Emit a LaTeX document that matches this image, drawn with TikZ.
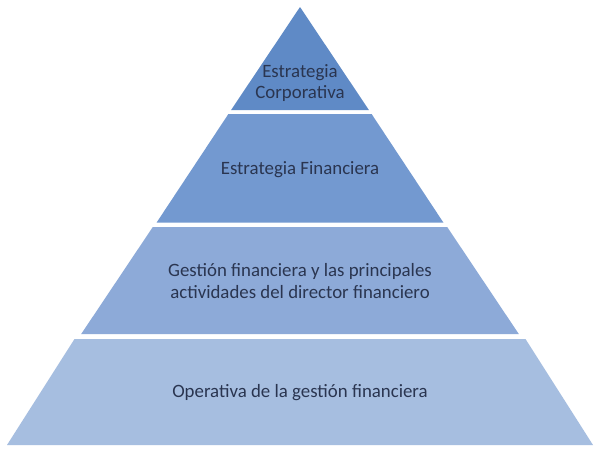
\documentclass[tikz,border=0pt]{standalone}
\usepackage{fontspec}
\setmainfont{Carlito}
\definecolor{lay1}{HTML}{5F8AC6}
\definecolor{lay2}{HTML}{7399D0}
\definecolor{lay3}{HTML}{8DAAD8}
\definecolor{lay4}{HTML}{A6BEE0}
\definecolor{txt}{HTML}{2A3550}
\begin{document}
\begin{tikzpicture}[x=0.025cm,y=-0.025cm,
  layer/.style={draw=none},
  lbl/.style={font=\fontsize{13.4}{15.6}\selectfont, text=txt, align=center, inner sep=0pt}]
\useasboundingbox (0,0) rectangle (600,450);
\fill[white] (0,0) rectangle (600,450);
% half-width = 0.669*(y-7)
\fill[lay1] (300,7) -- (368.9,110) -- (231.1,110) -- cycle;
\fill[lay2] (228.4,114) -- (371.6,114) -- (443.5,222.7) -- (156.5,222.7) -- cycle;
\fill[lay3] (152.8,227) -- (447.2,227) -- (518.8,334) -- (81.2,334) -- cycle;
\fill[lay4] (74.5,339) -- (525.5,339) -- (593,445) -- (7,445) -- cycle;
\node[lbl] (t1) at (300,83) {Estrategia\\Corporativa};
\node[lbl] (t2) at (300,170) {Estrategia Financiera};
\node[lbl] (t3) at (300,281) {Gestión financiera y las principales\\actividades del director financiero};
\node[lbl] (t4) at (300,393) {Operativa de la gestión financiera};
\end{tikzpicture}
\end{document}
